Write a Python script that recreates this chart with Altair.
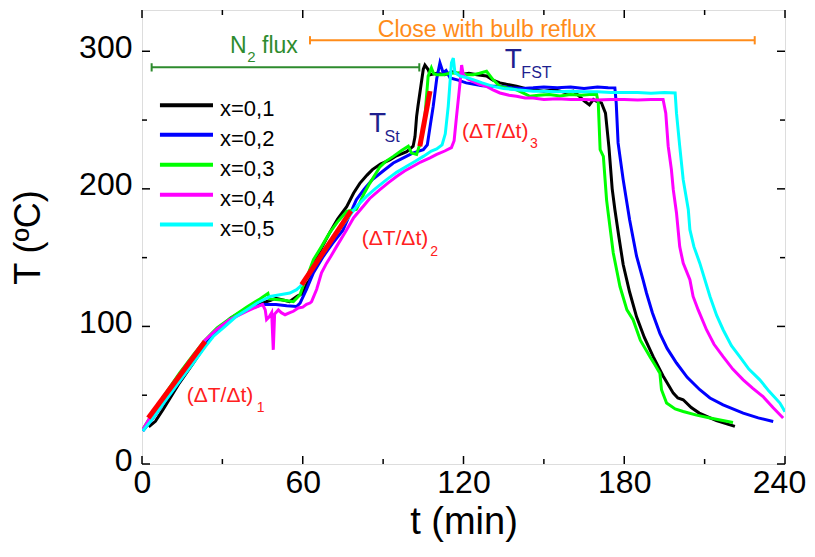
import altair as alt
import pandas as pd

# ---------------- data ----------------
series_names = ["x=0,1", "x=0,2", "x=0,3", "x=0,4", "x=0,5"]
series_colors = ["#000000", "#0000ff", "#00ff00", "#ff00ff", "#00ffff"]

black_t = [2.5, 5, 8, 14, 19, 23.5, 28, 33, 39, 45, 48, 50, 53, 55, 58, 60, 62, 64, 67, 70, 73, 76.4, 79, 81.3, 84, 86, 89,
           92.5, 95, 98.8, 101.2, 101.9, 102.5, 103, 104.4, 105, 105.6, 106.8, 107.5, 110, 113, 116, 119, 122, 125, 128.6,
           131, 133.6, 136, 139.8, 143, 146, 150, 154, 158, 161, 163.4, 165, 167, 168.5, 169.7, 171.5, 173, 174.3, 175.5,
           176.5, 178, 179.6, 182, 184.6, 187.5, 190.8, 194.5, 198.3, 200, 202, 205, 208, 214.4, 221.3]
black_T = [27, 31, 40, 59, 73, 86, 97, 106, 113, 117, 119, 120.5, 119, 118, 122, 124, 133, 146, 157, 168, 178, 187, 197, 204,
           210, 214, 218, 221, 224, 227, 231, 238, 252.7, 260, 279, 287, 290, 286.7, 283, 284, 283, 285, 283, 284, 283, 282,
           279, 277, 276, 274.6, 273, 272, 271, 272, 270, 271, 267, 264, 261, 265, 263.6, 262.5, 255, 230, 200,
           185, 165, 145, 125, 107, 92, 78, 64, 51.5, 48, 46.7, 41, 37, 31.5, 27.3]

blue_t = [0.3, 4, 8, 14, 19, 23.5, 28, 33, 39, 45, 50, 54, 57.7, 59, 61.4, 64, 67.7, 71, 75, 77.5, 80, 83, 86, 90, 93.8, 97,
          101, 105, 106.5, 107.5, 108.7, 110, 111.2, 112.4, 113.5, 115, 118, 121, 124, 127, 130, 133.6, 138, 142, 146, 150,
          155, 160, 165, 170, 174, 176.5, 177, 177.7, 179.6, 180.8, 182, 184.6, 187, 188.3, 190.5, 193.3, 196, 199.5, 203.5,
          208.2, 212, 216.9, 224.4, 230, 235.6]
blue_T = [24, 33, 44, 60, 74, 86, 97, 105, 112, 116, 116, 115, 114.5, 117, 127, 139, 151, 160, 170, 181, 192, 200, 206.7, 213,
          218.8, 222, 226, 228.5, 232, 245, 260, 280, 291.6, 284.4, 286, 280.6, 279, 277, 276, 275, 274.5, 274.5, 273.5, 273,
          273.4, 274, 273.5, 274, 273, 274, 273.5, 273.4, 262.5, 233.4, 206.7, 192, 177.6, 151, 134, 124.3, 110, 95, 84, 73.4,
          63, 54, 48, 43, 37, 33.5, 30.9]

green_t = [0.3, 4, 8, 14, 19, 23.5, 28, 33, 39, 44, 47, 47.5, 50, 53, 56.5, 59, 60, 62, 64, 67, 70, 73, 76.4, 80, 81.3, 83, 85,
           88.8, 91, 93.8, 97, 99.4, 100.6, 102.5, 103.3, 104, 105.5, 106.8, 108, 108.8, 110, 112.4, 115, 118.7, 121, 123.6,
           126, 128.6, 131, 133.6, 137, 139.8, 142, 144.8, 148, 152, 156, 160, 164, 167, 169.7, 170.3, 171, 172.2, 173.4,
           174, 175.9, 178.4, 181, 183.3, 186, 189.6, 191.5, 193.3, 193.9, 195.8, 199, 202, 207, 212, 220.6]
green_T = [25, 37, 49, 66, 79, 90, 99, 106, 114, 120, 124, 120, 119.5, 119, 118, 123, 129, 138, 148.5, 158, 168, 176, 183.6,
           185, 190, 197, 204, 216, 220, 223.6, 228, 231, 226, 225, 230, 233, 250, 282, 288, 284, 283, 283, 284, 284.4, 283,
           283, 284, 285.5, 279.4, 274.5, 273, 272, 270, 267.3, 268, 268.5, 267.5, 268.5, 268, 268.5, 268.5, 262.5, 228.5,
           223.6, 192, 182.5, 153.4, 129, 112, 104.9, 90, 78, 72, 66, 54, 44.3, 40, 38.2, 35.5, 33.4, 30.2]

magenta_t = [0.3, 4, 8, 14, 19, 23.5, 28, 32.8, 39, 45, 46, 46.5, 47.5, 48.4, 49, 49.5, 50.9, 52, 53.4, 55.2, 56.5, 58.3, 60,
             61.4, 62.7, 63.3, 65.2, 67, 68.9, 70.5, 72.6, 76.4, 79, 82.6, 85, 88.8, 92, 95, 98, 101.2, 104, 107.5, 110, 113,
             115.5, 116.5, 117.4, 118.7, 119.3, 119.9, 121.5, 123.6, 126, 128.6, 131, 133.6, 137, 139.8, 143, 146, 150, 155,
             160, 165, 170, 175, 180, 185, 190, 194.5, 195.5, 196.4, 197.6, 198.3, 199.5, 200.7, 202, 204.5, 205.7, 207.6,
             210.7, 213.5, 216.9, 220.5, 224.4, 228, 231.8, 235.5, 239.3]
magenta_T = [25, 37, 48, 64, 78, 90, 98, 105, 111, 116, 112, 105, 107, 110, 83, 109, 112, 110, 108.5, 110, 111, 113.4, 114,
             116, 117, 118, 127, 139, 146, 151, 158, 170.3, 179, 187.3, 193, 199.4, 204.5, 209, 213, 216.4, 219.5, 222.5,
             225, 227.5, 230, 235, 252.7, 277, 290, 283, 280, 278, 276, 274.5, 272, 269.7, 268, 267.3, 266, 266, 265, 265.5,
             265, 265, 264.5, 265, 265, 264.5, 265, 265, 255, 231, 214, 199.4, 182.5, 158, 146, 134, 121.8, 112, 97.6, 87,
             78, 69, 61.2, 55, 49, 41, 33.4]

cyan_t = [0.3, 4, 8, 14, 19, 23.5, 26.6, 31, 35, 39, 43, 47.8, 51.5, 55.2, 57.7, 59, 61.4, 64, 67.7, 72, 76.4, 80, 83.8, 87,
          91.3, 95, 98.8, 102, 105, 108, 110, 112, 113.2, 114.3, 115.5, 116.2, 116.8, 118.7, 121, 123.6, 127, 131, 135,
          139.8, 143, 146, 150, 155, 160, 165, 170, 175, 180, 185, 190, 195, 199, 199.5, 200.7, 202, 203.9, 204.5, 206,
          208.2, 212, 214.5, 216.9, 220, 223.1, 226.5, 230.6, 234, 238.1, 240]
cyan_T = [24, 33, 44, 60, 73, 85, 92.7, 100, 107, 112, 117, 121.8, 123, 124.3, 126.7, 129, 134, 143, 153.4, 166, 177.6, 187,
          194.5, 200, 206.7, 212, 216.4, 220, 223.6, 227.5, 229, 232, 240, 260, 291.6, 295, 284.4, 282, 281, 279.4, 277,
          274.5, 273, 272, 271.5, 270.9, 271, 270.5, 271, 270.5, 270.5, 270, 270, 270, 269.5, 270, 269.7, 255, 231, 206.7,
          185, 170.3, 158, 146, 121.8, 108, 97.6, 86, 78, 69, 61.2, 53, 44.3, 38]

# linear fits (ΔT/Δt)_1,2,3 : start / end points
fit_id = [1, 1, 2, 2, 3, 3]
fit_t = [2.35, 23.5, 59.6, 78.0, 103.7, 107.5]
fit_T = [33.4, 89.0, 130.3, 184.0, 231.0, 271.0]

# time-interval bars
n2_t = [3.6, 103.5]
n2_T = 288.3
reflux_t = [62.7, 228.7]
reflux_T = 308.0

x_major = [0, 60, 120, 180, 240]
x_minor = [30, 90, 150, 210]
y_major = [0, 100, 200, 300]
y_minor = [50, 150, 250]

# ---------------- build tables ----------------
all_t = [black_t, blue_t, green_t, magenta_t, cyan_t]
all_T = [black_T, blue_T, green_T, magenta_T, cyan_T]
rows = []
for name, ts, Ts in zip(series_names, all_t, all_T):
    for i, (a, b) in enumerate(zip(ts, Ts)):
        rows.append({"series": name, "t": a, "T": b, "i": i})
df = pd.DataFrame(rows)

fits = pd.DataFrame({"id": fit_id, "t": fit_t, "T": fit_T})

W, H = 643, 454
FONT = "Liberation Sans"

xscale = alt.Scale(domain=[0, 240], nice=False, zero=False)
yscale = alt.Scale(domain=[0, 330], nice=False, zero=False)

lines = alt.Chart(df).mark_line(strokeWidth=3, clip=True).encode(
    x=alt.X("t:Q", scale=xscale,
            axis=alt.Axis(values=x_major, title="t (min)", titleFontSize=38, titleFont=FONT,
                          titleFontWeight="normal", labelFont=FONT,
                          labelFontSize=32, ticks=False, domain=False, grid=False,
                          labelPadding=3, titlePadding=5, labelFlush=False, labelOverlap=False,
                          labelOffset={"condition": {"test": "datum.value == 240", "value": -6}, "value": 0},
                          labelColor="black", titleColor="black")),
    y=alt.Y("T:Q", scale=yscale,
            axis=alt.Axis(values=y_major, title="T (ºC)", titleFontSize=36, titleFont=FONT,
                          titleFontWeight="normal", labelFont=FONT, labelFontSize=32,
                          ticks=False, domain=False, grid=False, labelPadding=10,
                          titlePadding=31, labelOffset=-4, labelOverlap=False,
                          labelColor="black", titleColor="black")),
    color=alt.Color("series:N", scale=alt.Scale(domain=series_names, range=series_colors), legend=None),
    order="i:Q",
)

fit_lines = alt.Chart(fits).mark_line(color="#ff0000", strokeWidth=5).encode(
    x="t:Q", y="T:Q", detail="id:N"
)

GREEN = "#2e8b2e"
ORANGE = "#ff8c1a"
bars = pd.DataFrame({
    "t": [n2_t[0], reflux_t[0]], "t2": [n2_t[1], reflux_t[1]],
    "T": [n2_T, reflux_T], "col": [GREEN, ORANGE],
})
bar_rules = alt.Chart(bars).mark_rule(strokeWidth=2).encode(
    x="t:Q", x2="t2", y="T:Q", color=alt.Color("col:N", scale=None)
)
caps = pd.DataFrame({
    "t": [n2_t[0], n2_t[1], reflux_t[0], reflux_t[1]],
    "lo": [n2_T - 3, n2_T - 3, reflux_T - 3, reflux_T - 3],
    "hi": [n2_T + 3, n2_T + 3, reflux_T + 3, reflux_T + 3],
    "col": [GREEN, GREEN, ORANGE, ORANGE],
})
cap_rules = alt.Chart(caps).mark_rule(strokeWidth=2).encode(
    x="t:Q", y="lo:Q", y2="hi", color=alt.Color("col:N", scale=None)
)

RED = "#ff2020"
NAVY = "#1f1f8f"
ann = pd.DataFrame([
    {"txt": "N", "t": 32.8, "T": 299.0, "fs": 23, "col": GREEN},
    {"txt": "2", "t": 39.3, "T": 292.1, "fs": 15, "col": GREEN},
    {"txt": "flux", "t": 44.8, "T": 299.0, "fs": 23, "col": GREEN},
    {"txt": "Close with bulb reflux", "t": 88.0, "T": 310.7, "fs": 23, "col": ORANGE},
    {"txt": "T", "t": 84.7, "T": 241.6, "fs": 28, "col": NAVY},
    {"txt": "St", "t": 90.5, "T": 234.3, "fs": 16, "col": NAVY},
    {"txt": "T", "t": 135.4, "T": 288.1, "fs": 28, "col": NAVY},
    {"txt": "FST", "t": 141.6, "T": 280.9, "fs": 16, "col": NAVY},
    {"txt": "(ΔT/Δt)", "t": 16.7, "T": 45.0, "fs": 21, "col": RED},
    {"txt": "1", "t": 42.8, "T": 37.9, "fs": 14, "col": RED},
    {"txt": "(ΔT/Δt)", "t": 82.0, "T": 159.0, "fs": 21, "col": RED},
    {"txt": "2", "t": 107.6, "T": 151.4, "fs": 14, "col": RED},
    {"txt": "(ΔT/Δt)", "t": 119.4, "T": 236.8, "fs": 21, "col": RED},
    {"txt": "3", "t": 144.8, "T": 230.0, "fs": 14, "col": RED},
])
ann_text = alt.Chart(ann).mark_text(align="left", baseline="alphabetic", font=FONT).encode(
    x="t:Q", y="T:Q", text="txt:N",
    size=alt.Size("fs:Q", scale=None), color=alt.Color("col:N", scale=None)
)

# legend (drawn inside the plot)
leg_T = [260.7, 239.4, 217.6, 195.8, 174.0]
leg = pd.DataFrame({"name": series_names, "col": series_colors, "T": leg_T,
                    "t1": [6.7] * 5, "t2": [26.5] * 5, "tl": [29.1] * 5})
leg_lines = alt.Chart(leg).mark_rule(strokeWidth=4).encode(
    x="t1:Q", x2="t2", y="T:Q", color=alt.Color("col:N", scale=None)
)
leg_text = alt.Chart(leg).mark_text(align="left", baseline="middle", dy=4, fontSize=22, font=FONT,
                                    color="black").encode(
    x="tl:Q", y="T:Q", text="name:N"
)

# inward ticks on all four sides
xM = pd.DataFrame({"t": x_major})
xm = pd.DataFrame({"t": x_minor})
yM = pd.DataFrame({"T": y_major})
ym = pd.DataFrame({"T": y_minor})
tk = dict(color="black", strokeWidth=1.5)
ticks = [
    alt.Chart(xM).mark_rule(**tk).encode(x="t:Q", y=alt.value(H), y2=alt.value(H - 8)),
    alt.Chart(xm).mark_rule(**tk).encode(x="t:Q", y=alt.value(H), y2=alt.value(H - 5)),
    alt.Chart(xM).mark_rule(**tk).encode(x="t:Q", y=alt.value(0), y2=alt.value(8)),
    alt.Chart(xm).mark_rule(**tk).encode(x="t:Q", y=alt.value(0), y2=alt.value(5)),
    alt.Chart(yM).mark_rule(**tk).encode(y="T:Q", x=alt.value(0), x2=alt.value(8)),
    alt.Chart(ym).mark_rule(**tk).encode(y="T:Q", x=alt.value(0), x2=alt.value(5)),
    alt.Chart(yM).mark_rule(**tk).encode(y="T:Q", x=alt.value(W), x2=alt.value(W - 8)),
    alt.Chart(ym).mark_rule(**tk).encode(y="T:Q", x=alt.value(W), x2=alt.value(W - 5)),
]

chart = alt.layer(
    lines, fit_lines, bar_rules, cap_rules, ann_text, leg_lines, leg_text, *ticks
).properties(
    width=W, height=H,
    autosize=alt.AutoSizeParams(type="none"),
    padding={"left": 134, "top": 2, "right": 22, "bottom": 85},
).configure_view(
    stroke="black", strokeWidth=1.5
).configure(
    font=FONT, background="white"
)

chart.save("out.html", embed_options={"renderer": "svg", "actions": False})
